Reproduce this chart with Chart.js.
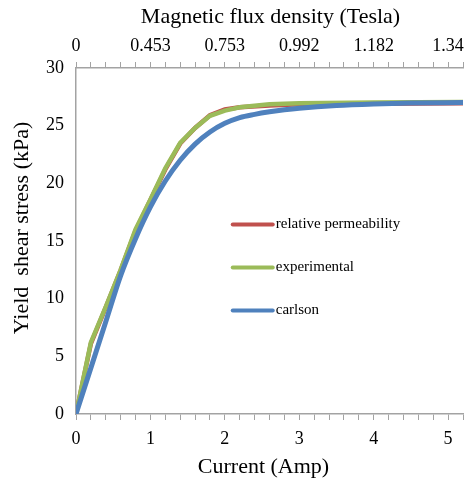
<!DOCTYPE html>
<html>
<head>
<meta charset="utf-8">
<script src="https://cdn.jsdelivr.net/npm/chart.js@4.4.1/dist/chart.umd.min.js"></script>
<style>
  html, body { margin: 0; padding: 0; background: #ffffff; }
  #wrap { width: 466px; height: 482px; position: relative; }
</style>
</head>
<body>
<div id="wrap"><canvas id="chart" width="466" height="482"></canvas></div>
<script>
// Yield shear stress (kPa) against coil current (Amp)
const relCurrent = [0, 0.2, 0.4, 0.6, 0.8, 1.0, 1.2, 1.4, 1.6, 1.8, 2.0, 2.2, 2.6, 3.0, 4.0, 5.2];
const relStress  = [0, 6.1, 9.25, 12.45, 15.9, 18.55, 21.2, 23.45, 24.8, 25.9, 26.4, 26.6, 26.75, 26.85, 26.9, 26.95];

const expCurrent = [0, 0.2, 0.4, 0.6, 0.8, 1.0, 1.2, 1.4, 1.6, 1.8, 2.0, 2.2, 2.6, 3.0, 4.0, 5.2];
const expStress  = [0, 6.2, 9.3, 12.5, 16.0, 18.6, 21.3, 23.5, 24.8, 25.85, 26.3, 26.6, 26.85, 26.95, 27.0, 27.05];

const carlsonCurrent = [0, 0.2, 0.4, 0.6, 0.8, 1.0, 1.2, 1.4, 1.6, 1.8, 2.0, 2.2, 2.4, 2.6, 2.8, 3.0, 3.5, 4.0, 4.5, 5.2];
const carlsonStress  = [0, 4.0, 8.0, 12.0, 15.2, 17.95, 20.2, 22.0, 23.4, 24.45, 25.2, 25.7, 25.98, 26.2, 26.38, 26.52, 26.75, 26.88, 26.96, 27.0];

// Magnetic flux density (Tesla) at whole-amp currents, shown on the top axis
const fluxCurrent = [0, 1, 2, 3, 4, 5];
const fluxLabels  = ['0', '0.453', '0.753', '0.992', '1.182', '1.34'];

const stressTicks = [0, 5, 10, 15, 20, 25, 30];

const SERIF = "'Liberation Serif', 'Times New Roman', serif";
const AXIS_GREY = '#a3a3a3';

function toPoints(xs, ys) {
  return xs.map((x, i) => ({ x: x, y: ys[i] }));
}

// Horizontal axes: fixed height, no extra side padding for edge labels
function fixHorizontal(scale) {
  scale.height = 68;
  scale.paddingLeft = 0;
  scale.paddingRight = 0;
}

// Axis titles and the in-plot legend
const decorations = {
  id: 'decorations',
  afterDraw(chart) {
    const ctx = chart.ctx;
    const a = chart.chartArea;
    ctx.save();
    ctx.fillStyle = '#000';
    ctx.font = '22px ' + SERIF;
    ctx.textAlign = 'center';
    ctx.textBaseline = 'middle';
    ctx.fillText('Magnetic flux density (Tesla)', (a.left + a.right) / 2 + 1, 17);
    ctx.fillText('Current (Amp)', (a.left + a.right) / 2 - 6, 467);
    ctx.translate(22, (a.top + a.bottom) / 2 - 13);
    ctx.rotate(-Math.PI / 2);
    ctx.fillText('Yield  shear stress (kPa)', 0, 0);
    ctx.restore();

    ctx.save();
    const x0 = a.left + (a.right - a.left) * 0.405;
    const y0 = a.top + (a.bottom - a.top) * 0.452;
    const gap = 43;
    ctx.font = '15px ' + SERIF;
    ctx.textAlign = 'left';
    ctx.textBaseline = 'middle';
    chart.data.datasets.forEach((ds, i) => {
      const y = y0 + i * gap;
      ctx.strokeStyle = ds.borderColor;
      ctx.lineWidth = 4;
      ctx.lineCap = 'round';
      ctx.beginPath();
      ctx.moveTo(x0, y);
      ctx.lineTo(x0 + 40, y);
      ctx.stroke();
      ctx.fillStyle = '#000';
      ctx.fillText(ds.label, x0 + 43, y);
    });
    ctx.restore();
  }
};

const isWhole = v => Math.abs(v - Math.round(v)) < 1e-6;

new Chart(document.getElementById('chart'), {
  type: 'line',
  data: {
    datasets: [
      {
        label: 'relative permeability',
        data: toPoints(relCurrent, relStress),
        borderColor: '#c0504d',
        borderWidth: 4.5,
        pointRadius: 0,
        tension: 0,
        order: 2
      },
      {
        label: 'experimental',
        data: toPoints(expCurrent, expStress),
        borderColor: '#9bbb59',
        borderWidth: 4.5,
        pointRadius: 0,
        tension: 0,
        order: 1
      },
      {
        label: 'carlson',
        data: toPoints(carlsonCurrent, carlsonStress),
        borderColor: '#4f81bd',
        borderWidth: 5,
        pointRadius: 0,
        cubicInterpolationMode: 'monotone',
        order: 0
      }
    ]
  },
  options: {
    responsive: false,
    animation: false,
    layout: { padding: { right: 3 } },
    plugins: {
      legend: { display: false },
      tooltip: { enabled: false }
    },
    scales: {
      x: {
        type: 'linear',
        position: 'bottom',
        min: 0,
        max: 5.2,
        afterFit: fixHorizontal,
        border: { display: true, color: AXIS_GREY, width: 1.5 },
        grid: { display: true, drawOnChartArea: false, drawTicks: true, tickLength: 6, color: AXIS_GREY, lineWidth: 1 },
        ticks: {
          stepSize: 0.2,
          autoSkip: false,
          maxRotation: 0,
          padding: 8,
          color: '#000',
          font: { family: SERIF, size: 18 },
          callback: v => isWhole(v) ? String(Math.round(v)) : ''
        }
      },
      x2: {
        type: 'linear',
        position: 'top',
        min: 0,
        max: 5.2,
        afterFit: fixHorizontal,
        border: { display: true, color: AXIS_GREY, width: 1.5 },
        grid: { display: true, drawOnChartArea: false, drawTicks: true, tickLength: 6, color: AXIS_GREY, lineWidth: 1 },
        ticks: {
          stepSize: 0.2,
          autoSkip: false,
          maxRotation: 0,
          padding: 5,
          color: '#000',
          font: { family: SERIF, size: 18 },
          callback: v => {
            if (!isWhole(v)) return '';
            const k = fluxCurrent.indexOf(Math.round(v));
            return k >= 0 ? fluxLabels[k] : '';
          }
        }
      },
      y: {
        type: 'linear',
        min: stressTicks[0],
        max: stressTicks[stressTicks.length - 1],
        afterFit(scale) { scale.width = 76; },
        border: { display: true, color: AXIS_GREY, width: 1.5 },
        grid: { display: true, drawOnChartArea: false, drawTicks: false },
        ticks: {
          stepSize: 5,
          padding: 12,
          color: '#000',
          font: { family: SERIF, size: 18 }
        }
      }
    }
  },
  plugins: [decorations]
});
</script>
</body>
</html>
